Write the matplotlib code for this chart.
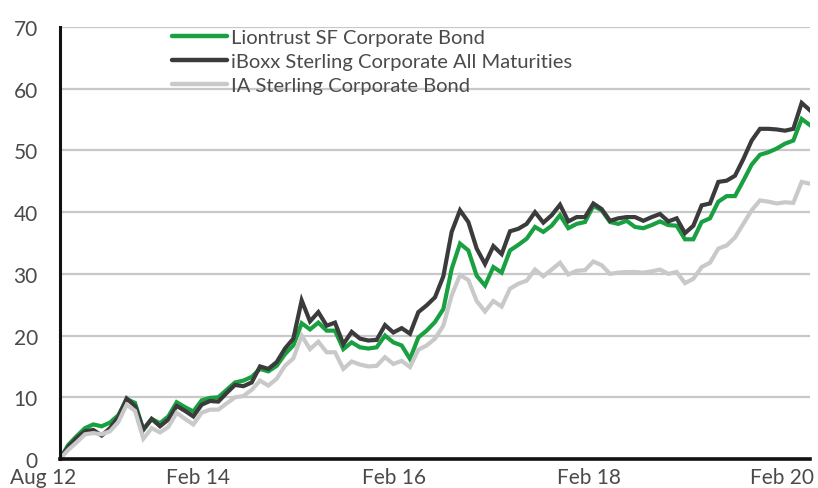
import matplotlib
matplotlib.use('Agg')
import matplotlib.pyplot as plt
from matplotlib import transforms

# Cumulative performance (%), monthly, Aug 2012 -> Feb 2020
liontrust = [0, 2.3, 3.7, 5.0, 5.6, 5.3, 5.9, 7.1, 9.7, 9.1,
             4.7, 6.5, 5.8, 6.9, 9.2, 8.4, 7.7, 9.5, 9.9, 10.0,
             11.2, 12.4, 12.7, 13.3, 14.6, 14.2, 15.1, 17.0, 18.4, 22.0,
             21.0, 22.1, 20.8, 20.8, 17.8, 18.9, 18.1, 17.9, 18.1, 20.0,
             18.9, 18.4, 16.2, 19.7, 20.8, 22.2, 24.3, 30.8, 34.9, 33.8,
             29.7, 28.1, 31.1, 30.2, 33.8, 34.7, 35.7, 37.6, 36.8, 37.8,
             39.5, 37.4, 38.1, 38.4, 41.0, 40.3, 38.4, 38.1, 38.6, 37.6,
             37.4, 37.9, 38.5, 37.9, 37.8, 35.6, 35.6, 38.4, 39.0, 41.7,
             42.6, 42.6, 45.1, 47.7, 49.3, 49.7, 50.3, 51.1, 51.6, 55.1,
             54.1]
iboxx = [0, 2.0, 3.4, 4.5, 4.7, 3.8, 5.0, 6.8, 9.8, 8.6,
         4.8, 6.5, 5.3, 6.4, 8.6, 7.8, 6.9, 8.8, 9.4, 9.3,
         10.7, 12.0, 11.8, 12.4, 15.0, 14.6, 15.7, 17.9, 19.5, 25.7,
         22.3, 23.8, 21.6, 22.1, 18.6, 20.6, 19.5, 19.2, 19.3, 21.7,
         20.5, 21.2, 20.3, 23.8, 24.9, 26.2, 29.6, 36.8, 40.3, 38.4,
         34.1, 31.6, 34.5, 33.2, 36.9, 37.3, 38.1, 40.0, 38.3, 39.5,
         41.2, 38.5, 39.2, 39.2, 41.4, 40.5, 38.6, 39.0, 39.2, 39.2,
         38.6, 39.2, 39.7, 38.5, 39.0, 36.6, 37.8, 41.1, 41.4, 44.9,
         45.1, 45.9, 48.6, 51.6, 53.5, 53.5, 53.4, 53.2, 53.5, 57.7,
         56.5]
ia_sector = [0, 1.5, 2.7, 4.0, 4.2, 4.0, 4.5, 6.0, 8.8, 7.8,
             3.3, 5.0, 4.3, 5.2, 7.5, 6.5, 5.6, 7.5, 8.0, 8.0,
             9.0, 10.0, 10.2, 11.2, 12.7, 11.9, 13.0, 15.1, 16.3, 20.0,
             17.8, 19.0, 17.3, 17.3, 14.6, 15.8, 15.3, 15.0, 15.1, 16.5,
             15.4, 15.9, 14.9, 17.7, 18.4, 19.5, 21.6, 26.5, 29.8, 29.0,
             25.6, 23.9, 25.6, 24.7, 27.6, 28.4, 28.9, 30.7, 29.6, 30.7,
             31.8, 29.9, 30.5, 30.6, 32.0, 31.4, 30.0, 30.2, 30.3, 30.3,
             30.2, 30.4, 30.7, 30.0, 30.3, 28.5, 29.2, 31.1, 31.8, 34.1,
             34.6, 35.9, 38.1, 40.3, 41.9, 41.7, 41.4, 41.6, 41.5, 44.9,
             44.6]
months = list(range(len(liontrust)))

series_names = ['Liontrust SF Corporate Bond',
                'iBoxx Sterling Corporate All Maturities',
                'IA Sterling Corporate Bond']
x_tick_pos = [16.56, 40.08, 63.48, 86.64]
x_tick_labels = ['Feb 14', 'Feb 16', 'Feb 18', 'Feb 20']
first_label_pos = -1.98
first_label = 'Aug 12'
y_ticks = [0, 10, 20, 30, 40, 50, 60, 70]

FONT = ['Lato', 'DejaVu Sans']
TXT = '#4a4a4a'
FS = 15
FS_LEG = 14.5

fig = plt.figure(figsize=(8.18, 4.89), dpi=100)
ax = fig.add_axes([60 / 818, 29 / 489, 750 / 818, 432 / 489])

ax.plot(months, liontrust, color='#19a040', lw=3.0, zorder=3,
        solid_joinstyle='miter', label=series_names[0])
ax.plot(months, iboxx, color='#3b3b3b', lw=3.0, zorder=4,
        solid_joinstyle='miter', label=series_names[1])
ax.plot(months, ia_sector, color='#c9c9c9', lw=3.0, zorder=5,
        solid_joinstyle='miter', label=series_names[2])

ax.set_xlim(0, len(months) - 1)
ax.set_ylim(0, 70)
ax.set_yticks(y_ticks)
ax.set_xticks(x_tick_pos)
ax.set_xticklabels(x_tick_labels)
ax.grid(axis='y', color='#c8c8c8', lw=1.6, zorder=1)
ax.set_axisbelow(True)
for s in ['top', 'right']:
    ax.spines[s].set_visible(False)
ax.spines['left'].set_linewidth(2.2)
ax.spines['left'].set_color('#111111')
ax.spines['bottom'].set_linewidth(2.6)
ax.spines['bottom'].set_color('#111111')
ax.spines['left'].set_zorder(6)
ax.spines['bottom'].set_zorder(6)
ax.tick_params(axis='both', length=0, labelsize=FS, colors=TXT)
ax.tick_params(axis='y', pad=16)
ax.tick_params(axis='x', pad=6)
for lab in ax.get_xticklabels() + ax.get_yticklabels():
    lab.set_family(FONT)

trans = transforms.blended_transform_factory(ax.transData, ax.transAxes)
xt = ax.get_xticklabels()[0]
ax.text(first_label_pos, 0, first_label, transform=trans, ha='center', va='top',
        fontsize=FS, color=TXT, family=FONT, clip_on=False)

fig.canvas.draw()
bb = xt.get_window_extent()
txt = ax.texts[0]
ax_y = ax.transAxes.inverted().transform((0, bb.y1))[1]
txt.set_position((first_label_pos, ax_y))

leg = ax.legend(loc='upper left', bbox_to_anchor=(172 / 818, 1 - 30 / 489),
                bbox_transform=fig.transFigure, frameon=False,
                prop={'family': FONT, 'size': FS_LEG},
                handlelength=2.75, handletextpad=0.2, labelspacing=0.33,
                borderpad=0, borderaxespad=0)
for t in leg.get_texts():
    t.set_color(TXT)
for h in leg.get_lines():
    h.set_solid_capstyle('round')
    h.set_linewidth(3.2)
leg.set_zorder(2)

fig.savefig('out.png', dpi=100)
